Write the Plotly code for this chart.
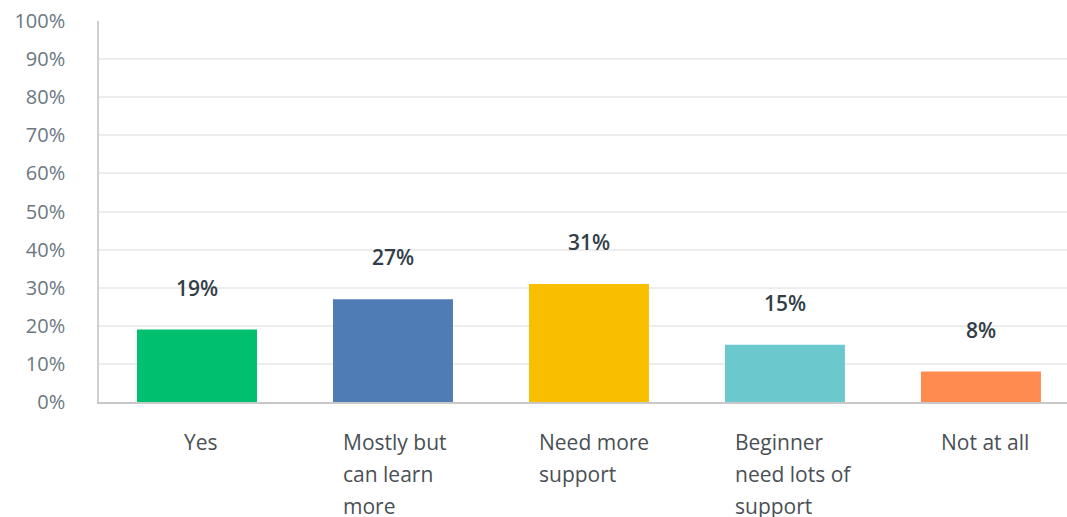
import plotly.graph_objects as go

categories = ["Yes", "Mostly but<br>can learn<br>more", "Need more<br>support",
              "Beginner<br>need lots of<br>support", "Not at all"]
values = [19, 27, 31, 15, 8]
bar_colors = ["#00BF6F", "#507CB6", "#F9BE00", "#6BC8CD", "#FF8B4F"]

FONT = "Open Sans"
BAR_WIDTH = 0.612
PX_PER_CAT = 196          # plot width 968 px over range 4.939
LINE_GAP = 32             # px between wrapped label lines
xpos = list(range(len(categories)))

fig = go.Figure(go.Bar(
    x=xpos, y=values, width=BAR_WIDTH,
    marker=dict(color=bar_colors, line=dict(width=0)),
    hoverinfo="skip",
))

annotations = []
for x, v in zip(xpos, values):
    annotations.append(dict(
        x=x, y=v, xref="x", yref="y", text=f"{v}%", showarrow=False,
        yanchor="middle", yshift=42,
        font=dict(family=FONT, size=21, color="#333E48", weight=600),
    ))

# category labels: wrapped lines, left aligned from just inside the bar edge
half_bar_px = BAR_WIDTH * PX_PER_CAT / 2
for x, c in zip(xpos, categories):
    lines = c.split("<br>")
    multi = len(lines) > 1
    for i, line in enumerate(lines):
        annotations.append(dict(
            x=x, y=0, xref="x", yref="paper", text=line, showarrow=False,
            xanchor="left" if multi else "center", yanchor="middle",
            xshift=(-half_bar_px + 8) if multi else 4,
            yshift=-40 - LINE_GAP * i,
            font=dict(family=FONT, size=21, color="#4A5055"),
        ))

fig.update_layout(
    width=1067, height=517,
    margin=dict(l=99, r=0, t=21, b=115),
    plot_bgcolor="white", paper_bgcolor="white",
    showlegend=False,
    annotations=annotations,
    xaxis=dict(
        range=[-0.5, 4.439], showticklabels=False, showgrid=False,
        zeroline=False, showline=True, linecolor="#C8C8C8", linewidth=1.5,
        fixedrange=True,
    ),
    yaxis=dict(
        range=[0, 100], dtick=10, ticksuffix="%",
        showgrid=True, gridcolor="#EDEDED", gridwidth=1.5,
        zeroline=False, showline=True, linecolor="#D0D0D0", linewidth=1.5,
        ticks="", ticklabelstandoff=28,
        tickfont=dict(family=FONT, size=20, color="#6B787F"),
        fixedrange=True,
    ),
)

fig.write_html("out.html")
